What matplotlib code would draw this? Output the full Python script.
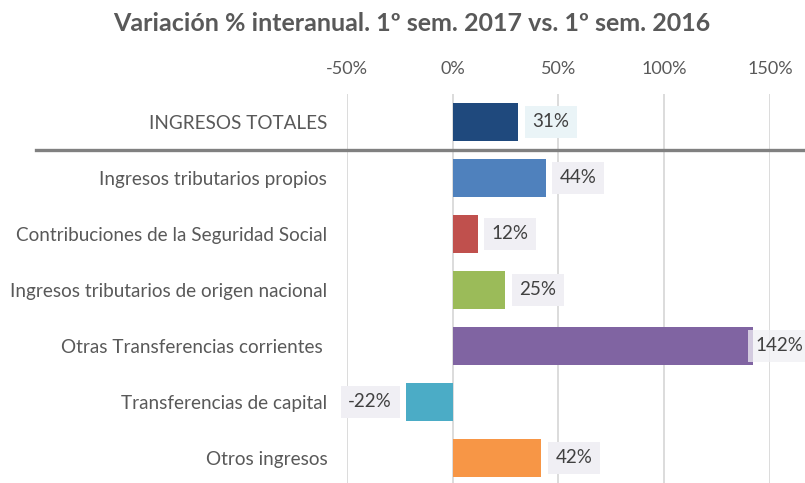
import matplotlib.pyplot as plt
import matplotlib.transforms as mtransforms

plt.rcParams['font.family'] = ['Lato', 'DejaVu Sans']

categorias = ["INGRESOS TOTALES",
              "Ingresos tributarios propios",
              "Contribuciones de la Seguridad Social",
              "Ingresos tributarios de origen nacional",
              "Otras Transferencias corrientes ",
              "Transferencias de capital",
              "Otros ingresos"]
variacion = [31, 44, 12, 25, 142, -22, 42]
etiquetas = ["31%", "44%", "12%", "25%", "142%", "-22%", "42%"]
colores = ["#1F497D", "#4F81BD", "#C0504D", "#9BBB59", "#8064A2", "#4BACC6", "#F79646"]
ticks = [-50, 0, 50, 100, 150]
tick_labels = ["-50%", "0%", "50%", "100%", "150%"]

fig = plt.figure(figsize=(8.05, 4.83), dpi=100)
ax = fig.add_axes([0.4307, -0.0062, 0.5258, 0.8116])

y = list(range(len(categorias)))
ax.barh(y, variacion, height=0.675, color=colores, zorder=3)

ax.set_xlim(-50, 150)
ax.set_ylim(len(categorias) - 0.5, -0.5)
ax.set_xticks(ticks)
ax.set_xticklabels(tick_labels)
ax.xaxis.tick_top()
ax.tick_params(axis='x', length=0, pad=12, labelsize=13, labelcolor="#595959")
ax.set_yticks(y)
ax.set_yticklabels(categorias)
ax.tick_params(axis='y', length=0, pad=14, labelsize=13.6, labelcolor="#595959")
ax.grid(axis='x', color="#D9D9D9", linewidth=1.3, zorder=0)
for s in ax.spines.values():
    s.set_visible(False)

# etiquetas de datos
for i, (v, t) in enumerate(zip(variacion, etiquetas)):
    fondo = "#EAF4F7" if i == 0 else "#F0EFF4"
    if v < 0:
        ax.annotate(t, (v, i), xytext=(-10, 0), textcoords="offset points",
                    ha="right", va="center", fontsize=13.5, color="#404040",
                    bbox=dict(boxstyle="square,pad=0.4", fc=fondo, ec="none"),
                    zorder=4, annotation_clip=False)
    elif v > 130:
        ax.annotate(t, (v, i), xytext=(2, 0), textcoords="offset points",
                    ha="left", va="center", fontsize=13.5, color="#404040",
                    bbox=dict(boxstyle="square,pad=0.4", fc=fondo, ec="none", alpha=0.75),
                    zorder=4, annotation_clip=False)
    else:
        ax.annotate(t, (v, i), xytext=(10, 0), textcoords="offset points",
                    ha="left", va="center", fontsize=13.5, color="#404040",
                    bbox=dict(boxstyle="square,pad=0.4", fc=fondo, ec="none"),
                    zorder=4, annotation_clip=False)

# línea separadora bajo el total
trans = mtransforms.blended_transform_factory(fig.transFigure, ax.transData)
ax.plot([0.045, 1.0], [0.5, 0.5], transform=trans, color="#808080",
        linewidth=2.4, clip_on=False, zorder=5)

fig.text(0.511, 0.952, "Variación % interanual. 1º sem. 2017 vs. 1º sem. 2016",
         ha="center", va="center", fontsize=18, fontweight="bold", color="#595959")

fig.savefig("out.png", dpi=100)
